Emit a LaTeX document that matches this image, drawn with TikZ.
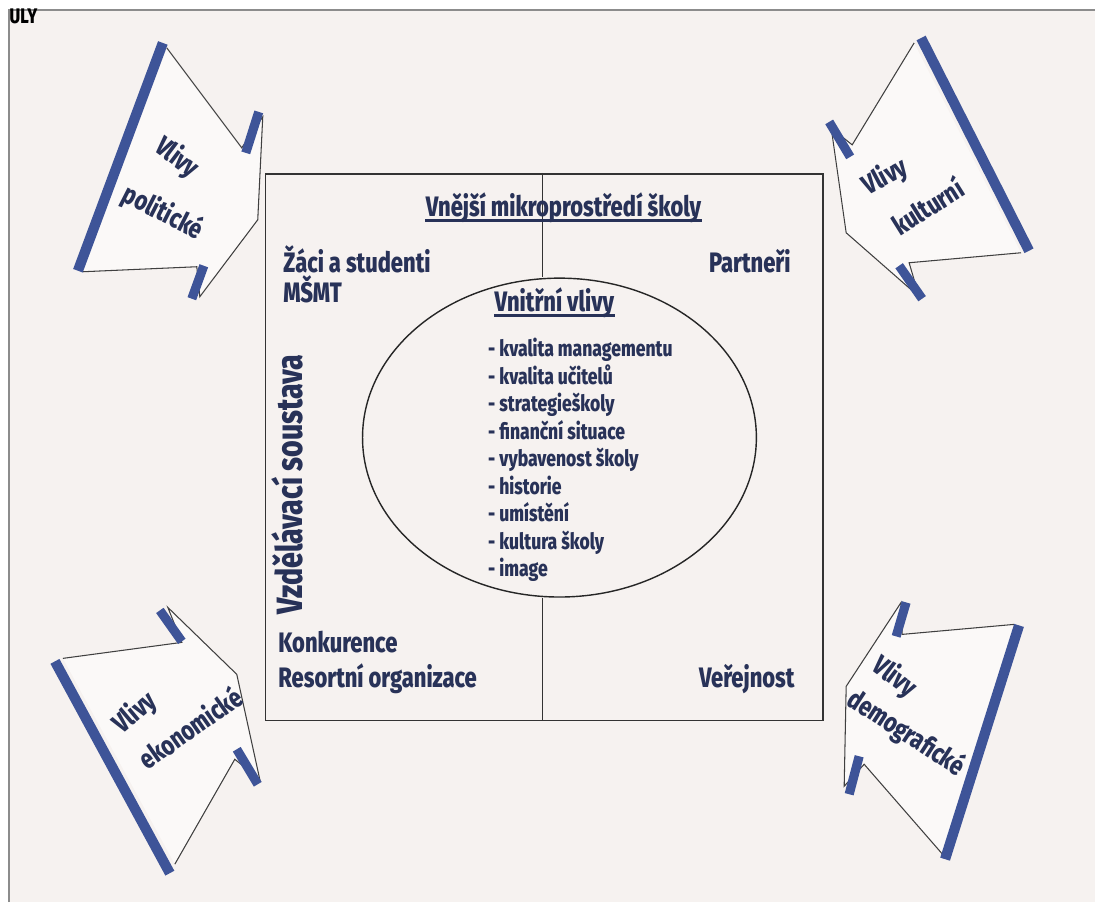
\documentclass[tikz,border=0pt]{standalone}
\usepackage{fontspec}
\setmainfont{Fira Sans}[FakeStretch=0.78, BoldFont={Fira Sans ExtraBold}]
\usetikzlibrary{shapes.geometric}
\definecolor{paper}{RGB}{246,242,240}
\definecolor{ink}{RGB}{40,50,88}
\definecolor{barblue}{RGB}{62,84,152}
\begin{document}
\begin{tikzpicture}[x=0.01cm,y=-0.01cm,
	label/.style={font=\fontsize{8}{9}\selectfont\bfseries, text=ink, inner sep=0pt},
	itemlist/.style={font=\fontsize{6.4}{7.82}\selectfont\bfseries, text=ink, inner sep=0pt, align=left},
	tag/.style={font=\fontsize{7.8}{9}\selectfont\bfseries, text=ink, inner sep=0pt},
	backbar/.style={barblue, line width=2.9pt},
	shoulderbar/.style={barblue, line width=2.6pt},
	blade/.style={fill=white!55!paper},
	rim/.style={draw=black!75, line width=0.3pt},
	underline/.style={ink, line width=0.8pt}]

	% Page and its edge
	\fill[white] (0,0) rectangle (1096,903);
	\fill[paper] (9,10) rectangle (1096,903);
	\draw[black!45, line width=0.6pt] (9,903) -- (9,10) -- (1096,10);
	\node[font=\fontsize{6}{7}\selectfont\bfseries, anchor=base west, inner sep=0pt] (runhead) at (9,24) {ULY};

	% Outer box
	\node[draw=black!80, line width=0.5pt, minimum width=5.58cm, minimum height=5.47cm, inner sep=0pt] (outer) at (545,447.5) {};

	% Inner ellipse
	\node[draw=black!85, line width=0.4pt, ellipse, minimum width=3.94cm, minimum height=3.19cm, inner sep=0pt] (inner) at (560,438) {};

	% Split line above and below the ellipse
	\coordinate (split) at (543,0);
	\draw[black!80, line width=0.4pt] (outer.north -| split) -- (inner.north -| split);
	\draw[black!80, line width=0.4pt] (inner.south -| split) -- (outer.south -| split);

	% Outer environment
	\node[label, anchor=base] (outerhead) at (564,217) {Vnější mikroprostředí školy};
	\draw[underline] ([yshift=-1pt]outerhead.base west) -- ([yshift=-1pt]outerhead.base east);
	\node[label, anchor=base west] (pupils) at (283,273) {Žáci a studenti};
	\node[label, anchor=base west] (ministry) at (283,303) {MŠMT};
	\node[label, anchor=base east] (partners) at (792,273) {Partneři};
	\node[label, anchor=base west] (rivals) at (278,653) {Konkurence};
	\node[label, anchor=base west] (branch) at (278,688) {Resortní organizace};
	\node[label, anchor=base east] (public) at (796,688) {Veřejnost};
	\node[label, font=\fontsize{10.4}{12}\selectfont\bfseries, rotate=90] (system) at (288,485) {Vzdělávací soustava};

	% Inner influences
	\node[label, anchor=base] (innerhead) at (555,312) {Vnitřní vlivy};
	\draw[underline] ([yshift=-1pt]innerhead.base west) -- ([yshift=-1pt]innerhead.base east);
	\node[itemlist, anchor=north west] (items) at (488,338) {- kvalita managementu\\- kvalita učitelů\\- strategieškoly\\- finanční situace\\- vybavenost školy\\- historie\\- umístění\\- kultura školy\\- image};

	% Political influences
	\fill[blade] (167,48) -- (242,148) -- (263,117) -- (258,220) -- (200,297) -- (197,267) -- (83,272) -- cycle;
	\draw[rim] (167,48) -- (242,148) -- (263,117) -- (258,220) -- (200,297) -- (197,267) -- (83,272);
	\draw[backbar] (163,43) -- (78,271);
	\draw[shoulderbar] (259,112) -- (246,153);
	\draw[shoulderbar] (204,266) -- (192,299);
	\node[tag, rotate=-37] (polA) at (177,158) {Vlivy};
	\node[tag, rotate=-27] (polB) at (163,213) {politické};

	% Cultural influences
	\fill[blade] (915,43) -- (853,145) -- (832,128) -- (847,233) -- (920,297) -- (910,263) -- (1022,253) -- cycle;
	\draw[rim] (915,43) -- (853,145) -- (832,128) -- (847,233) -- (920,297) -- (910,263) -- (1022,253);
	\draw[backbar] (922,38) -- (1030,251);
	\draw[shoulderbar] (830,122) -- (851,157);
	\draw[shoulderbar] (900,266) -- (923,299);
	\node[tag, rotate=28] (culA) at (886,177) {Vlivy};
	\node[tag, rotate=32] (culB) at (928,206) {kulturní};

	% Economic influences
	\fill[blade] (63,659) -- (182,643) -- (168,608) -- (237,675) -- (260,780) -- (235,760) -- (175,865) -- cycle;
	\draw[rim] (63,659) -- (182,643) -- (168,608) -- (237,675) -- (260,780) -- (235,760) -- (175,865);
	\draw[backbar] (55,662) -- (170,874);
	\draw[shoulderbar] (160,611) -- (182,642);
	\draw[shoulderbar] (237,750) -- (258,785);
	\node[tag, rotate=40] (ecoA) at (135,714) {Vlivy};
	\node[tag, rotate=35] (ecoB) at (190,728) {ekonomické};

	% Demographic influences
	\fill[blade] (1015,625) -- (903,635) -- (902,603) -- (847,687) -- (845,787) -- (865,765) -- (946,858) -- cycle;
	\draw[rim] (1015,625) -- (903,635) -- (902,603) -- (847,687) -- (845,787) -- (865,765) -- (946,858);
	\draw[backbar] (1020,626) -- (946,860);
	\draw[shoulderbar] (907,603) -- (897,637);
	\draw[shoulderbar] (860,757) -- (850,795);
	\node[tag, rotate=-37] (demA) at (895,678) {Vlivy};
	\node[tag, rotate=-33] (demB) at (907,734) {demografické};

\end{tikzpicture}
\end{document}
